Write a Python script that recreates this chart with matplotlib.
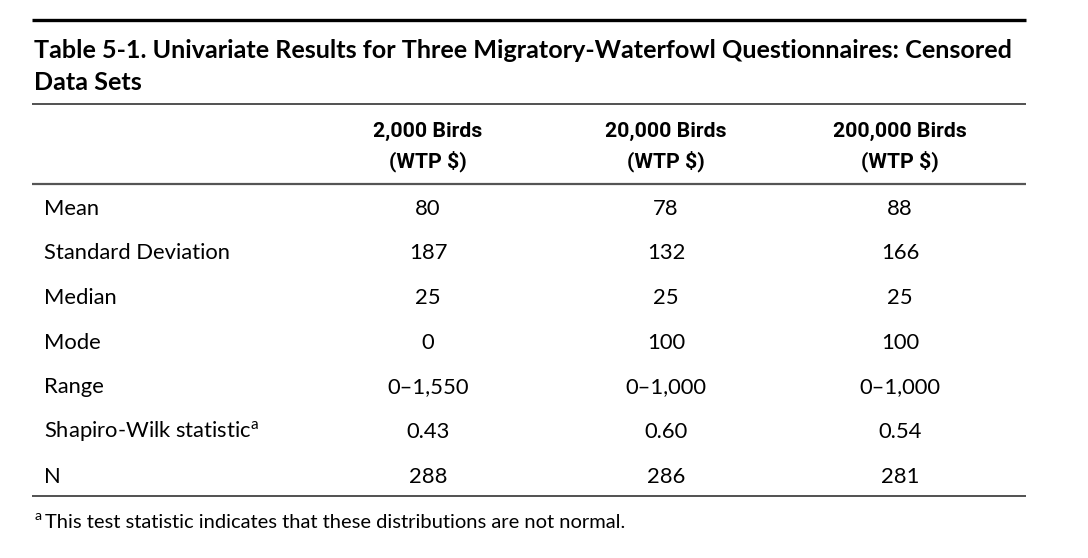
import matplotlib
matplotlib.use("Agg")
import matplotlib.pyplot as plt

title_lines = ["Table 5-1. Univariate Results for Three Migratory-Waterfowl Questionnaires: Censored",
               "Data Sets"]
col_headers = ["2,000 Birds", "20,000 Birds", "200,000 Birds"]
col_sub = ["(WTP $)", "(WTP $)", "(WTP $)"]
row_labels = ["Mean", "Standard Deviation", "Median", "Mode", "Range",
              "Shapiro-Wilk statistic$^{\\mathregular{a}}$", "N"]
birds_2000 = ["80", "187", "25", "0", "0\u20131,550", "0.43", "288"]
birds_20000 = ["78", "132", "25", "100", "0\u20131,000", "0.60", "286"]
birds_200000 = ["88", "166", "25", "100", "0\u20131,000", "0.54", "281"]
footnote = "This test statistic indicates that these distributions are not normal."

W, H = 1088, 558
fig = plt.figure(figsize=(W / 100, H / 100), dpi=100)
ax = fig.add_axes([0, 0, 1, 1])
ax.set_xlim(0, W)
ax.set_ylim(H, 0)
ax.axis("off")

body_font = ["Lato", "DejaVu Sans"]
head_font = ["Roboto", "DejaVu Sans"]

# rules
ax.plot([32, 1026], [20, 20], color="black", lw=2.4, solid_capstyle="butt")
ax.plot([32, 1026], [104, 104], color="#222222", lw=1.1, solid_capstyle="butt")
ax.plot([32, 1026], [184, 184], color="#555555", lw=1.6, solid_capstyle="butt")
ax.plot([32, 1026], [496, 496], color="#222222", lw=1.1, solid_capstyle="butt")

# title
ax.text(34, 50, title_lines[0], ha="left", va="center", fontsize=18.1,
        fontweight="bold", family=body_font, color="black")
ax.text(34, 82, title_lines[1], ha="left", va="center", fontsize=18.1,
        fontweight="bold", family=body_font, color="black")

col_x = [428, 666, 900]
for x, h, s in zip(col_x, col_headers, col_sub):
    ax.text(x, 131, h, ha="center", va="center", fontsize=15.3,
            fontweight="bold", family=head_font, color="black")
    ax.text(x, 161, s, ha="center", va="center", fontsize=15.3,
            fontweight="bold", family=head_font, color="black")

row_y = [209, 253, 298, 343, 387, 432, 477]
cols = [birds_2000, birds_20000, birds_200000]
for i, (lab, y) in enumerate(zip(row_labels, row_y)):
    ax.text(44, y, lab, ha="left", va="center", fontsize=15.8, family=body_font,
            color="black")
    for x, col in zip(col_x, cols):
        ax.text(x, y, col[i], ha="center", va="center", fontsize=15.8,
                family=body_font, color="black")

ax.text(34, 520, "$^{\\mathregular{a}}$", ha="left", va="center", fontsize=14.5,
        family=body_font, color="black")
ax.text(45, 522, footnote, ha="left", va="center", fontsize=14.5,
        family=body_font, color="black")

fig.savefig("out.png", dpi=100, facecolor="white")
